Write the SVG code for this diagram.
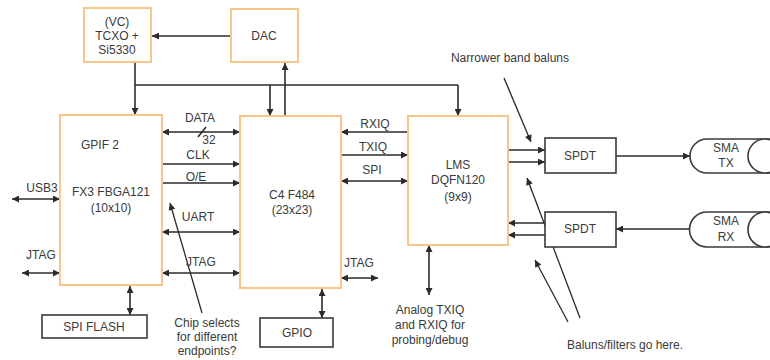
<svg xmlns="http://www.w3.org/2000/svg" width="770" height="360" viewBox="0 0 770 360">
<defs>
<marker id="ah" viewBox="0 0 10 10" refX="10" refY="5" markerWidth="8" markerHeight="7" markerUnits="userSpaceOnUse" orient="auto-start-reverse">
<path d="M0,0 L10,5 L0,10 Z" fill="#2b2b2b"/>
</marker>
<style>
.ob{fill:#fff;stroke:#f6c68a;stroke-width:2}
.bb{fill:#fff;stroke:#3a3a3a;stroke-width:1.6}
.c{fill:none;stroke:#2b2b2b;stroke-width:1.6}
.a{marker-end:url(#ah)}
.d{marker-start:url(#ah);marker-end:url(#ah)}
.p{fill:none;stroke:#2b2b2b;stroke-width:1.3;marker-end:url(#ah)}
text{font-family:"Liberation Sans",Arial,sans-serif;font-size:12px;fill:#3a3a3a;text-anchor:middle}
</style>
</defs>
<rect width="770" height="360" fill="#fff"/>
<g id="connectors">
<path class="c a" d="M231,36 H152"/>
<path class="c a" d="M135,62 V115"/>
<path class="c" d="M135,85 H458"/>
<path class="c a" d="M270,85 V116"/>
<path class="c a" d="M458,85 V116"/>
<path class="c a" d="M285,116 V63"/>
<path class="c d" d="M162,132 H240"/>
<path class="c" d="M198,137 L206,127"/>
<path class="c a" d="M162,164 H240"/>
<path class="c a" d="M162,183 H240"/>
<path class="c d" d="M162,232 H240"/>
<path class="c d" d="M162,273 H240"/>
<path class="c d" d="M12,199 H60"/>
<path class="c d" d="M22,273 H60"/>
<path class="c d" d="M130,286 V315"/>
<path class="c d" d="M322,289 V318"/>
<path class="c d" d="M341,278 H378"/>
<path class="c a" d="M408,132 H341"/>
<path class="c a" d="M341,155 H408"/>
<path class="c d" d="M341,181 H408"/>
<path class="c d" d="M429,245 V295"/>
<path class="c a" d="M508,150 H545"/>
<path class="c a" d="M508,162 H545"/>
<path class="c a" d="M616,156 H690"/>
<path class="c a" d="M690,229 H616"/>
<path class="c a" d="M545,223 H508"/>
<path class="c a" d="M545,235 H508"/>
<path class="p" d="M202,313 L170,203"/>
<path class="p" d="M504,78 L531,142"/>
<path class="p" d="M580,318 L527,178"/>
<path class="p" d="M568,322 L535,260"/>
</g>
<g id="tcxo">
<rect class="ob" x="84" y="8" width="67" height="54"/>
<text x="117" y="26">(VC)</text>
<text x="117" y="40">TCXO +</text>
<text x="117" y="54">Si5330</text>
</g>
<g id="dac">
<rect class="ob" x="231" y="9" width="67" height="53"/>
<text x="264" y="40">DAC</text>
</g>
<g id="fx3">
<rect class="ob" x="60" y="115" width="102" height="170"/>
<text x="100" y="149">GPIF 2</text>
<text x="111" y="196">FX3 FBGA121</text>
<text x="111" y="212">(10x10)</text>
</g>
<g id="c4">
<rect class="ob" x="240" y="116" width="101" height="172"/>
<text x="292" y="199">C4 F484</text>
<text x="292" y="214">(23x23)</text>
</g>
<g id="lms">
<rect class="ob" x="408" y="116" width="100" height="129"/>
<text x="458" y="169">LMS</text>
<text x="458" y="184">DQFN120</text>
<text x="458" y="201">(9x9)</text>
</g>
<g id="spdt-tx">
<rect class="bb" x="545" y="138" width="71" height="35"/>
<text x="580" y="160">SPDT</text>
</g>
<g id="spdt-rx">
<rect class="bb" x="545" y="212" width="71" height="35"/>
<text x="580" y="233">SPDT</text>
</g>
<g id="sma-tx">
<path class="bb" d="M707,139 H780 V173 H707 A17,17 0 0 1 707,139 Z"/>
<ellipse class="bb" cx="765" cy="156" rx="17" ry="17"/>
<text x="726" y="152">SMA</text>
<text x="726" y="167">TX</text>
</g>
<g id="sma-rx">
<path class="bb" d="M707,212 H780 V247 H707 A17.5,17.5 0 0 1 707,212 Z"/>
<ellipse class="bb" cx="765" cy="229.5" rx="17" ry="17.5"/>
<text x="726" y="225">SMA</text>
<text x="726" y="241">RX</text>
</g>
<g id="spi-flash">
<rect class="bb" x="42" y="315" width="105" height="23"/>
<text x="94" y="331">SPI FLASH</text>
</g>
<g id="gpio">
<rect class="bb" x="260" y="318" width="73" height="29"/>
<text x="297" y="337">GPIO</text>
</g>
<g id="labels">
<text x="200" y="122">DATA</text>
<text x="209" y="144">32</text>
<text x="198" y="159">CLK</text>
<text x="196" y="181">O/E</text>
<text x="198" y="221">UART</text>
<text x="201" y="266">JTAG</text>
<text x="42" y="192">USB3</text>
<text x="41" y="259">JTAG</text>
<text x="375" y="128">RXIQ</text>
<text x="373" y="151">TXIQ</text>
<text x="372" y="174">SPI</text>
<text x="359" y="267">JTAG</text>
<text x="510" y="62">Narrower band baluns</text>
<text x="207" y="327">Chip selects</text>
<text x="207" y="341">for different</text>
<text x="207" y="355">endpoints?</text>
<text x="430" y="314">Analog TXIQ</text>
<text x="430" y="329">and RXIQ for</text>
<text x="430" y="344">probing/debug</text>
<text x="625" y="349">Baluns/filters go here.</text>
</g>
</svg>
